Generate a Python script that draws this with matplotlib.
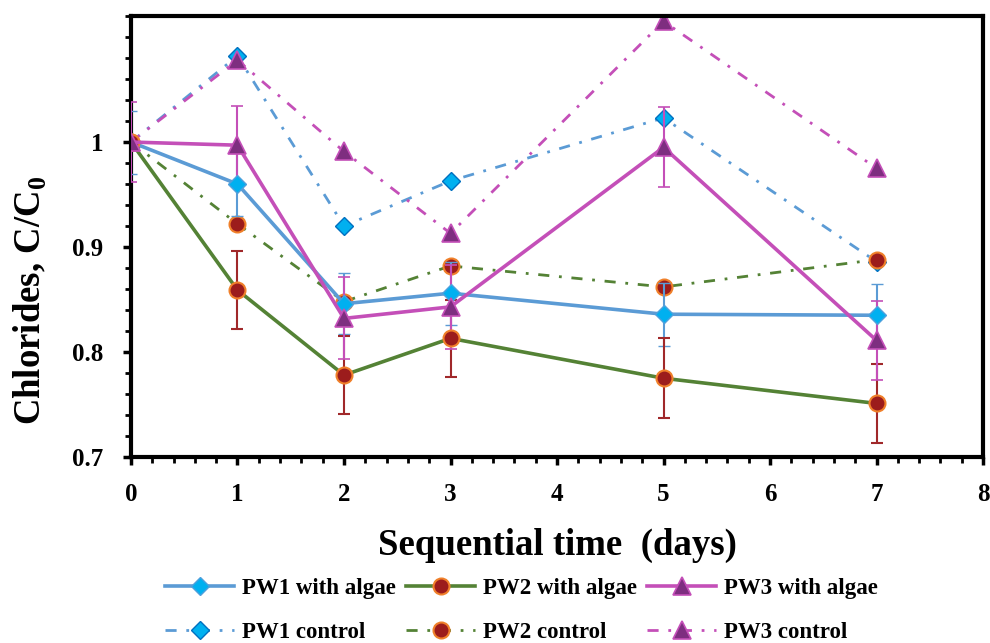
import matplotlib.pyplot as plt
import numpy as np
from matplotlib.ticker import MultipleLocator, FixedLocator

plt.rcParams['font.family'] = ['Liberation Serif', 'DejaVu Serif']
plt.rcParams['font.weight'] = 'bold'
plt.rcParams['mathtext.fontset'] = 'custom'
plt.rcParams['mathtext.rm'] = 'Liberation Serif:bold'
plt.rcParams['mathtext.bf'] = 'Liberation Serif:bold'

# data
days = [0, 1, 2, 3, 5, 7]

pw1_algae = [1.0, 0.960, 0.846, 0.856, 0.836, 0.835]
pw1_algae_err = [0.030, 0.030, 0.029, 0.030, 0.030, 0.030]
pw2_algae = [1.0, 0.859, 0.778, 0.813, 0.775, 0.751]
pw2_algae_err = [0.0, 0.037, 0.037, 0.037, 0.038, 0.038]
pw3_algae = [1.0, 0.997, 0.832, 0.843, 0.995, 0.811]
pw3_algae_err = [0.038, 0.037, 0.039, 0.040, 0.038, 0.038]

pw1_control = [1.0, 1.082, 0.920, 0.963, 1.023, 0.886]
pw2_control = [1.0, 0.922, 0.848, 0.882, 0.862, 0.888]
pw3_control = [1.0, 1.078, 0.991, 0.913, 1.115, 0.975]

blue_line = '#5B9BD5'
green_line = '#548235'
mag_line = '#C44FB8'

fig = plt.figure(figsize=(9.9, 6.43), dpi=100)
ax = fig.add_axes([0.1323, 0.2893, 0.8607, 0.6857])

# with algae (solid + error bars)
h1 = ax.errorbar(days, pw1_algae, yerr=pw1_algae_err, color=blue_line, lw=2.6,
                 marker='D', ms=9.5, mfc='#00B0F0', mec='#4FA0DC', mew=1,
                 ecolor=blue_line, elinewidth=1.5, capsize=4.5, capthick=1.5, zorder=3)
h2 = ax.errorbar(days, pw2_algae, yerr=pw2_algae_err, color=green_line, lw=2.6,
                 marker='o', ms=11.5, mfc='#9C1C1C', mec='#F0802A', mew=1.5,
                 ecolor='#A0282A', elinewidth=1.5, capsize=4.5, capthick=1.5, zorder=3)
h3 = ax.errorbar(days, pw3_algae, yerr=pw3_algae_err, color=mag_line, lw=2.6,
                 marker='^', ms=13, mfc='#7E2E80', mec=mag_line, mew=1.2,
                 ecolor=mag_line, elinewidth=1.5, capsize=4.5, capthick=1.5, zorder=3)

# controls (dash-dot)
dashdot = (0, (4, 3.5, 1, 3.5))
c1, = ax.plot(days, pw1_control, color=blue_line, lw=2, ls=dashdot,
              marker='D', ms=9.5, mfc='#00B0F0', mec='#0070C0', mew=1, zorder=2)
c2, = ax.plot(days, pw2_control, color=green_line, lw=2, ls=dashdot,
              marker='o', ms=11.5, mfc='#9C1C1C', mec='#F0802A', mew=1.5, zorder=2)
c3, = ax.plot(days, pw3_control, color=mag_line, lw=2, ls=dashdot,
              marker='^', ms=13, mfc='#7E2E80', mec=mag_line, mew=1.2, zorder=2)

ax.set_xlim(0, 8)
ax.set_ylim(0.7, 1.12)
ax.xaxis.set_major_locator(MultipleLocator(1))
ax.xaxis.set_minor_locator(MultipleLocator(0.2))
ax.yaxis.set_major_locator(FixedLocator([0.7, 0.8, 0.9, 1.0]))
ax.yaxis.set_minor_locator(MultipleLocator(0.02))
ax.set_yticklabels(['0.7', '0.8', '0.9', '1'])

for s in ['left', 'bottom', 'top', 'right']:
    ax.spines[s].set_linewidth(3)
ax.tick_params(axis='both', which='major', direction='out', length=6, width=2.5,
               labelsize=18)
ax.tick_params(axis='x', which='major', pad=13)
ax.tick_params(axis='y', which='major', pad=14)
ax.tick_params(axis='both', which='minor', direction='out', length=4, width=2)
for lbl in ax.get_xticklabels() + ax.get_yticklabels():
    lbl.set_fontweight('bold')

fig.text(0.563, 0.152, 'Sequential time  (days)', fontsize=26.5, fontweight='bold',
         ha='center', va='center')
fig.text(0.031, 0.532, 'Chlorides, C/C$_\\mathbf{0}$', fontsize=26.5, fontweight='bold',
         rotation=90, ha='center', va='center')

handles = [h1[0], c1, h2[0], c2, h3[0], c3]
labels = ['PW1 with algae', 'PW1 control', 'PW2 with algae', 'PW2 control',
          'PW3 with algae', 'PW3 control']
fig.legend(handles, labels, ncol=3, loc='center', bbox_to_anchor=(0.527, 0.05),
           frameon=False, prop={'family': 'Liberation Serif', 'weight': 'bold', 'size': 16.5},
           handlelength=3.0, columnspacing=0.45, handletextpad=0.35, labelspacing=1.0,
           borderpad=0.1)

fig.savefig('out.png', dpi=100)
